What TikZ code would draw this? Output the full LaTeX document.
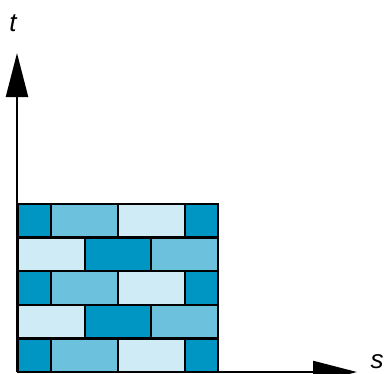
\documentclass[tikz,border=0pt]{standalone}
\usepackage{tikz}
\usepackage{fontspec}
\setsansfont{Liberation Sans}
\usetikzlibrary{arrows.meta}
\definecolor{brickdark}{RGB}{0,150,196}
\definecolor{brickmid}{RGB}{108,194,220}
\definecolor{bricklight}{RGB}{206,235,246}
\tikzset{
  brick/.style={draw=black,line width=2.3pt},
  axis/.style={line width=2.3pt,-{Triangle[length=44pt,width=22pt]}},
  axislabel/.style={font=\sffamily\itshape\fontsize{26}{26}\selectfont,inner sep=0pt}
}
\begin{document}
\begin{tikzpicture}[x=1pt,y=-1pt]
                \useasboundingbox (0,0) rectangle (390,373);
                \clip (0,0) rectangle (390,373);
                % brick rows
                \foreach \r in {0,2,4}{
                    \filldraw[brick,fill=brickdark] (18,204+33.6*\r) rectangle (51.3,237.6+33.6*\r);
                    \filldraw[brick,fill=brickmid] (51.3,204+33.6*\r) rectangle (118,237.6+33.6*\r);
                    \filldraw[brick,fill=bricklight] (118,204+33.6*\r) rectangle (184.7,237.6+33.6*\r);
                    \filldraw[brick,fill=brickdark] (184.7,204+33.6*\r) rectangle (218,237.6+33.6*\r);
                }
                \foreach \r in {1,3}{
                    \filldraw[brick,fill=bricklight] (18,204+33.6*\r) rectangle (84.7,237.6+33.6*\r);
                    \filldraw[brick,fill=brickdark] (84.7,204+33.6*\r) rectangle (151.3,237.6+33.6*\r);
                    \filldraw[brick,fill=brickmid] (151.3,204+33.6*\r) rectangle (218,237.6+33.6*\r);
                }
                % axes
                \coordinate (origin) at (17,372);
                \coordinate (tend) at (17,53);
                \coordinate (send) at (357,372);
                \draw[axis] (origin) -- (tend);
                \draw[axis] (origin) -- (send);
                \node[axislabel] (tlabel) at (13,23) {t};
                \node[axislabel] (slabel) at (377,362) {s};
            \end{tikzpicture}
\end{document}
